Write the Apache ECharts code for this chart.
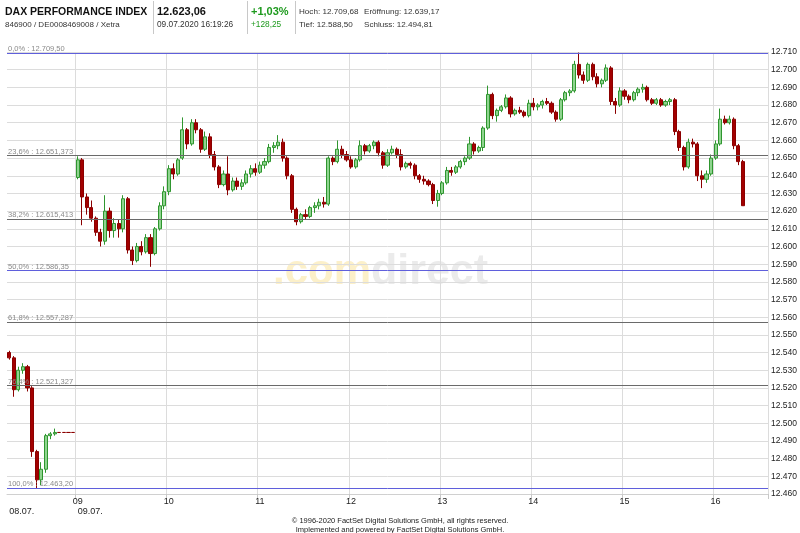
<!DOCTYPE html>
<html><head><meta charset="utf-8">
<script src="https://cdn.jsdelivr.net/npm/echarts@6/dist/echarts.min.js"></script>
<style>html,body{margin:0;padding:0;background:#fff}#c{width:800px;height:533px}</style>
</head><body><div id="c"></div>
<script>
// 08.07. (previous day, compressed section)
const prevOpen  = [12540,12537,12519,12530,12532,12520,12484,12468,12474,12493,12494,12494.81,12494.81,12494.81,12494.81];
const prevClose = [12537,12519,12530,12532,12520,12484,12468,12474,12493,12494,12494.81,12494.81,12494.81,12494.81,12494.81];
const prevLow   = [12536,12515,12518,12528,12518,12481,12463.2,12465,12472,12491,12493,12494.81,12494.81,12494.81,12494.81];
const prevHigh  = [12541,12538,12532,12534,12533,12521,12485,12478,12494,12495,12497,12494.81,12494.81,12494.81,12494.81];

// 09.07. intraday, 3-minute candles from 09:00
const dayOpen = [12639,12649,12628,12622,12616,12608,12603,12620,12609,12613,12610,12627,12598,12592,12600,12597,12605,12596,12610,12623,
12631,12644,12641,12650,12666,12658,12670,12666,12655,12662,12652,12645,12635,12641,12632,12637,12634,12636,12641,12644,
12642,12646,12648,12656,12657,12659,12650,12640,12621,12614,12618,12617,12622,12623,12625,12624,12650,12648,12655,12652,
12649,12645,12649,12657,12654,12657,12659,12653,12646,12653,12655,12652,12645,12647,12646,12640,12638,12637,12635,12626,
12630,12636,12643,12642,12645,12648,12650,12658,12654,12656,12667,12686,12674,12677,12679,12684,12675,12677,12676,12674,
12681,12679,12680,12682,12681,12676,12672,12683,12687,12688,12703,12697,12694,12703,12696,12692,12694,12701,12682,12680,
12688,12685,12683,12687,12689,12690,12683,12681,12683,12680,12682,12683,12665,12656,12645,12659,12658,12640,12638,12641,
12650,12658,12672,12670,12672,12657,12648];
const dayClose = [12649,12628,12622,12616,12608,12603,12620,12609,12613,12610,12627,12598,12592,12600,12597,12605,12596,12610,12623,12631,
12644,12641,12649,12666,12658,12670,12666,12655,12662,12652,12645,12635,12641,12632,12637,12634,12636,12641,12644,12642,
12646,12648,12656,12657,12659,12650,12640,12621,12614,12618,12617,12622,12623,12625,12624,12650,12648,12655,12652,12649,
12645,12649,12657,12654,12657,12659,12653,12646,12653,12655,12652,12645,12647,12646,12640,12638,12637,12635,12626,12630,
12636,12643,12642,12645,12648,12650,12658,12654,12656,12667,12686,12674,12677,12679,12684,12675,12677,12676,12674,12681,
12679,12680,12682,12681,12676,12672,12683,12687,12688,12703,12697,12694,12703,12696,12692,12694,12701,12682,12680,12688,
12685,12683,12687,12689,12690,12683,12681,12683,12680,12682,12683,12665,12656,12645,12659,12658,12640,12638,12641,12650,
12658,12672,12670,12672,12657,12648,12623.06];
const dayLow = [12638,12612,12618,12614,12606,12600,12601,12605,12605,12605,12608,12596,12589.5,12591,12595,12596,12588.5,12595,12609,12621,
12629,12638,12640,12649,12655,12657,12664,12653,12654,12650,12643,12633,12634,12629,12631,12632,12632,12635,12639,12640,
12641,12644,12647,12653,12655,12648,12638,12619,12612,12613,12615,12616,12619,12621,12622,12623,12646,12647,12650,12648,
12644,12644,12648,12652,12653,12655,12651,12644,12645,12652,12650,12643,12644,12644,12638,12636,12635,12634,12624,12622.5,
12629,12635,12640,12641,12644,12646,12649,12652,12653,12654,12666,12672,12670.6,12676,12678,12673,12674,12675,12673,12673,
12677,12677,12678,12680,12675,12670.6,12671,12682,12685,12687,12695,12692,12693,12694,12690,12690,12693,12680,12675,12679,
12683,12681,12682,12685,12687,12682,12680,12680,12679,12679,12680,12663,12654,12643,12644,12656,12637,12633,12636,12640,
12649,12657,12669,12669,12655,12646,12623];
const dayHigh = [12651,12650,12630,12626,12617,12610,12629,12622,12616,12615,12629,12628,12600,12602,12603,12607,12607,12611,12625,12634,
12646,12647,12650,12673,12667,12672,12672,12667,12665,12664,12654,12646,12643,12651,12639,12639,12638,12643,12646,12647,
12648,12650,12658,12659,12663,12661,12651,12641,12622,12619,12621,12623,12625,12627,12628,12651,12651,12660,12657,12654,
12651,12650,12660,12658,12658,12660,12660,12654,12655,12657,12656,12655,12648,12648,12647,12641,12640,12638,12636,12632,
12637,12645,12645,12646,12649,12651,12662,12659,12657,12668,12691,12687,12678,12680,12686,12685,12678,12679,12677,12683,
12684,12681,12683,12684,12682,12677,12684,12688,12689,12705,12709.68,12699,12704,12704,12698,12695,12703,12702,12684,12690,
12689,12686,12688,12690,12692,12691,12684,12684,12684,12683,12684,12684,12666,12657,12661,12661,12659,12643,12643,12652,
12660,12678,12674,12674,12673,12658,12649];

const hourLabels = ['09','10','11','12','13','14','15','16'];
const dateLabels = ['08.07.','09.07.'];
const prevSlots = 15, slotsPerHour = 20, minutesPerSlot = 3, slotCount = 167;
const yMin = 12460, yMax = 12710, yStep = 10;
const fibValues = [12709.50,12651.373,12615.413,12586.35,12557.287,12521.327,12463.20];
const fibLabels = ['0,0% : 12.709,50','23,6% : 12.651,373','38,2% : 12.615,413','50,0% : 12.586,35','61,8% : 12.557,287','76,4% : 12.521,327','100,0% : 12.463,20'];
const fibMajor = [true,false,false,true,false,false,true];

const categories = [];
for (let i = 0; i < slotCount; i++) {
  if (i < prevSlots) { categories.push('08.07.-' + i); continue; }
  const m = (i - prevSlots) * minutesPerSlot;
  const h = 9 + Math.floor(m / 60), mm = m % 60;
  categories.push('09.07. ' + String(h).padStart(2,'0') + ':' + String(mm).padStart(2,'0'));
}
const RED = '#a30000', RED_B = '#8b0000';
const candles = [];
for (let i = 0; i < slotCount; i++) {
  let v = null;
  if (i < prevSlots) v = [prevOpen[i], prevClose[i], prevLow[i], prevHigh[i]];
  else {
    const k = i - prevSlots;
    if (k < dayOpen.length) v = [dayOpen[k], dayClose[k], dayLow[k], dayHigh[k]];
  }
  if (!v) { candles.push('-'); continue; }
  if (v[0] === v[1]) candles.push({value: v, itemStyle: {color: RED, color0: RED, borderColor: RED_B, borderColor0: RED_B}});
  else candles.push(v);
}
const isHour = (i) => i >= prevSlots && (i - prevSlots) % slotsPerHour === 0;
const fmtNum = (v) => Math.floor(v / 1000) + '.' + String(Math.round(v % 1000)).padStart(3, '0');
const FONT = '"Liberation Sans", Arial, sans-serif';

const chart = echarts.init(document.getElementById('c'), null, {renderer: 'canvas'});
chart.setOption({
  animation: false,
  backgroundColor: '#ffffff',
  grid: {left: 7, right: 30, top: 52, bottom: 39},
  xAxis: [{
    type: 'category', data: categories, boundaryGap: true,
    axisLine: {show: true, lineStyle: {color: '#d0d0d0'}},
    axisTick: {show: true, interval: (i) => isHour(i), length: 5, lineStyle: {color: '#c8c8c8'}},
    splitLine: {show: true, interval: (i) => isHour(i), lineStyle: {color: '#dcdcdc', width: 1}},
    axisLabel: {interval: (i) => isHour(i), margin: 3, fontSize: 9, color: '#222', fontFamily: FONT,
      formatter: (v, i) => hourLabels[(i - prevSlots) / slotsPerHour] || ''}
  }, {
    type: 'category', data: categories, boundaryGap: true, position: 'bottom', offset: 10,
    axisLine: {show: false}, axisTick: {show: false}, splitLine: {show: false},
    axisLabel: {interval: (i) => i === 0 || i === prevSlots, align: 'left', margin: 3, fontSize: 9, color: '#222', fontFamily: FONT,
      formatter: (v, i) => i === 0 ? dateLabels[0] : dateLabels[1]}
  }],
  yAxis: {
    type: 'value', position: 'right', min: yMin, max: yMax, interval: yStep, scale: true,
    axisLine: {show: false}, axisTick: {show: false},
    splitLine: {show: true, lineStyle: {color: '#dcdcdc', width: 1}},
    axisLabel: {margin: 3, fontSize: 8.5, color: '#222', fontFamily: FONT, formatter: fmtNum}
  },
  graphic: [
    {type: 'text', x: 371, y: 272, z: -10, silent: true, style: {text: '.com', fill: '#fcf0c9', font: 'bold 42px ' + FONT, align: 'right', verticalAlign: 'middle'}},
    {type: 'text', x: 371, y: 272, z: -10, silent: true, style: {text: 'direct', fill: '#ebebeb', font: 'bold 43px ' + FONT, align: 'left', verticalAlign: 'middle'}},
    {type: 'text', x: 5, y: 12, style: {text: 'DAX PERFORMANCE INDEX', fill: '#111', font: 'bold 10.5px ' + FONT, verticalAlign: 'middle'}},
    {type: 'text', x: 5, y: 25, style: {text: '846900 / DE0008469008 / Xetra', fill: '#333', font: '8px ' + FONT, verticalAlign: 'middle'}},
    {type: 'line', shape: {x1: 153.5, y1: 1, x2: 153.5, y2: 34}, style: {stroke: '#c8c8c8', lineWidth: 1}},
    {type: 'text', x: 157, y: 12, style: {text: '12.623,06', fill: '#111', font: 'bold 11px ' + FONT, verticalAlign: 'middle'}},
    {type: 'text', x: 157, y: 25, style: {text: '09.07.2020 16:19:26', fill: '#333', font: '8.3px ' + FONT, verticalAlign: 'middle'}},
    {type: 'line', shape: {x1: 247.5, y1: 1, x2: 247.5, y2: 34}, style: {stroke: '#c8c8c8', lineWidth: 1}},
    {type: 'text', x: 251, y: 12, style: {text: '+1,03%', fill: '#1e9a1e', font: 'bold 11px ' + FONT, verticalAlign: 'middle'}},
    {type: 'text', x: 251, y: 25, style: {text: '+128,25', fill: '#1e9a1e', font: '8.3px ' + FONT, verticalAlign: 'middle'}},
    {type: 'line', shape: {x1: 295.5, y1: 1, x2: 295.5, y2: 34}, style: {stroke: '#c8c8c8', lineWidth: 1}},
    {type: 'text', x: 299, y: 12, style: {text: 'Hoch: 12.709,68', fill: '#333', font: '8.1px ' + FONT, verticalAlign: 'middle'}},
    {type: 'text', x: 364, y: 12, style: {text: 'Eröffnung: 12.639,17', fill: '#333', font: '8.1px ' + FONT, verticalAlign: 'middle'}},
    {type: 'text', x: 299, y: 25, style: {text: 'Tief: 12.588,50', fill: '#333', font: '8.1px ' + FONT, verticalAlign: 'middle'}},
    {type: 'text', x: 364, y: 25, style: {text: 'Schluss: 12.494,81', fill: '#333', font: '8.1px ' + FONT, verticalAlign: 'middle'}},
    {type: 'text', x: 400, y: 521, style: {text: '© 1996-2020 FactSet Digital Solutions GmbH, all rights reserved.', fill: '#222', font: '7.5px ' + FONT, align: 'center', verticalAlign: 'middle'}},
    {type: 'text', x: 400, y: 530, style: {text: 'Implemented and powered by FactSet Digital Solutions GmbH.', fill: '#222', font: '7.5px ' + FONT, align: 'center', verticalAlign: 'middle'}}
  ],
  series: [{
    type: 'candlestick', data: candles, barWidth: 3.6, xAxisIndex: 0,
    itemStyle: {color: '#8fd48f', color0: RED, borderColor: '#2f962f', borderColor0: RED_B, borderWidth: 1},
    markLine: {
      silent: true, symbol: ['none', 'none'], animation: false,
      data: fibValues.map((v, i) => ({
        yAxis: v,
        lineStyle: {color: fibMajor[i] ? '#5f5fdc' : '#6a6a6a', type: 'solid', width: 1},
        label: {show: true, position: 'insideStartTop', distance: [1, 0], formatter: fibLabels[i], color: '#8a8a8a', fontSize: 7.5, fontFamily: FONT}
      }))
    }
  }]
});
</script></body></html>
